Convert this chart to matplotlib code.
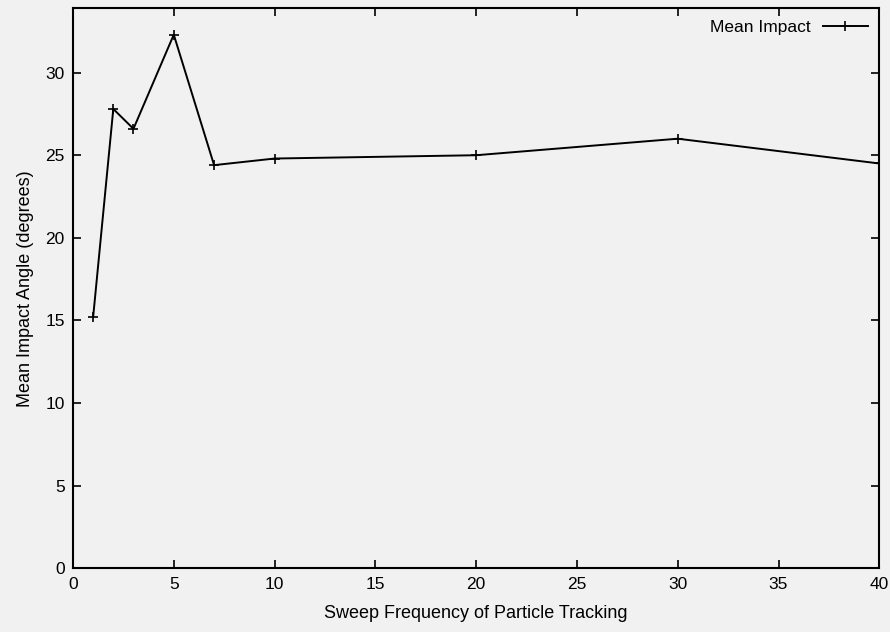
import matplotlib.pyplot as plt

# dados
frequencia = [1, 2, 3, 5, 7, 10, 20, 30, 40]
angulo = [15.2, 27.8, 26.6, 32.3, 24.4, 24.8, 25.0, 26.0, 24.5]

plt.rcParams['font.family'] = ['Liberation Sans', 'DejaVu Sans']

fig = plt.figure(figsize=(8.9, 6.32), dpi=100, facecolor='#f1f1f1')
ax = fig.add_axes([0.082, 0.101, 0.906, 0.886])
ax.set_facecolor('#f1f1f1')

ax.plot(frequencia, angulo, color='black', linewidth=1.4, marker='+',
        markersize=7, markeredgewidth=1.2, label='Mean Impact')

ax.set_xlim(0, 40)
ax.set_ylim(0, 33.9)
ax.set_xticks(range(0, 41, 5))
ax.set_yticks(range(0, 31, 5))
ax.tick_params(direction='in', top=True, right=True, length=6, width=1.2,
               labelsize=12.5, pad=6)
for s in ax.spines.values():
    s.set_linewidth(1.5)

ax.set_xlabel('Sweep Frequency of Particle Tracking', fontsize=13, labelpad=10)
ax.set_ylabel('Mean Impact Angle (degrees)', fontsize=13, labelpad=8)

ax.legend(loc='upper right', frameon=False, markerfirst=False, fontsize=12.5,
          handlelength=2.6, borderaxespad=0.25, handletextpad=0.7)

fig.savefig('out.png', dpi=100, facecolor=fig.get_facecolor())
